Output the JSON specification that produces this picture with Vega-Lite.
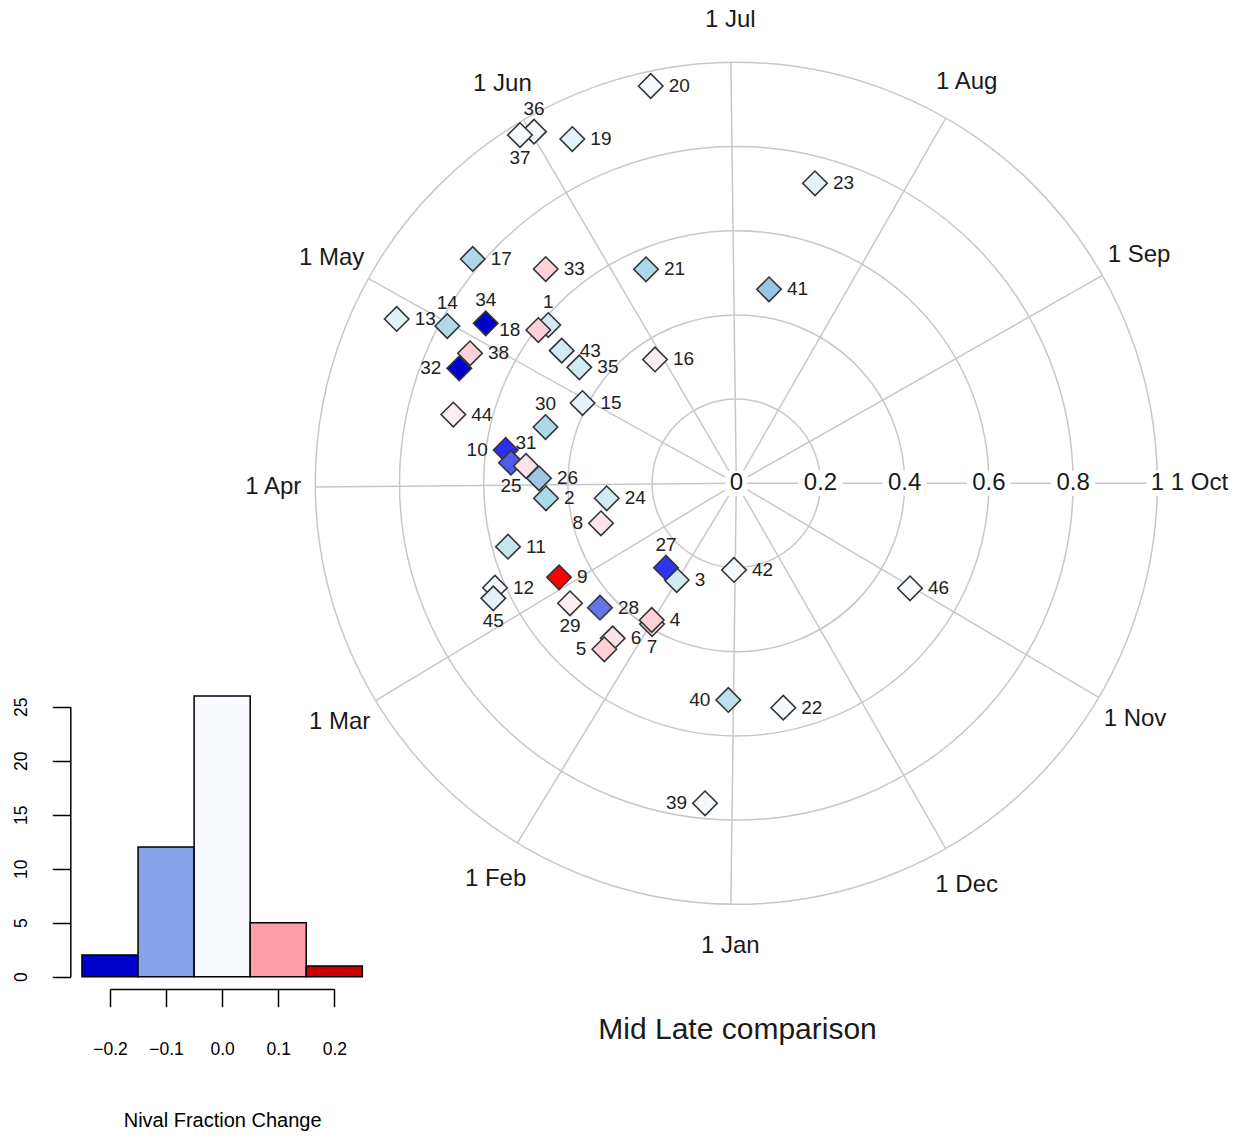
{
  "$schema": "https://vega.github.io/schema/vega-lite/v6.json",
  "width": 1246,
  "height": 1137,
  "autosize": {"type": "none"},
  "padding": 0,
  "background": "white",
  "config": {
    "view": {"stroke": null},
    "font": "Liberation Sans",
    "text": {"font": "Liberation Sans"},
    "axis": {"labelFont": "Liberation Sans", "titleFont": "Liberation Sans"}
  },
  "datasets": {
    "stations": [
      {"id": 1, "x": -0.4466, "y": 0.3760, "change": -0.035},
      {"id": 3, "x": -0.1416, "y": -0.2297, "change": -0.035},
      {"id": 6, "x": -0.2936, "y": -0.3682, "change": 0.045},
      {"id": 5, "x": -0.3135, "y": -0.3943, "change": 0.085},
      {"id": 7, "x": -0.2002, "y": -0.3342, "change": 0.045},
      {"id": 4, "x": -0.2009, "y": -0.3247, "change": 0.085},
      {"id": 8, "x": -0.3214, "y": -0.0950, "change": 0.045},
      {"id": 9, "x": -0.4211, "y": -0.2233, "change": 0.2},
      {"id": 10, "x": -0.5477, "y": 0.0791, "change": -0.148},
      {"id": 11, "x": -0.5423, "y": -0.1506, "change": -0.045},
      {"id": 12, "x": -0.5732, "y": -0.2480, "change": -0.003},
      {"id": 13, "x": -0.8067, "y": 0.3903, "change": -0.02},
      {"id": 14, "x": -0.6865, "y": 0.3736, "change": -0.066},
      {"id": 15, "x": -0.3653, "y": 0.1907, "change": -0.02},
      {"id": 16, "x": -0.1931, "y": 0.2941, "change": 0.025},
      {"id": 17, "x": -0.6261, "y": 0.5328, "change": -0.07},
      {"id": 18, "x": -0.4703, "y": 0.3641, "change": 0.085},
      {"id": 19, "x": -0.3895, "y": 0.8178, "change": -0.02},
      {"id": 20, "x": -0.2033, "y": 0.9437, "change": -0.003},
      {"id": 21, "x": -0.2145, "y": 0.5083, "change": -0.07},
      {"id": 22, "x": 0.1116, "y": -0.5330, "change": -0.003},
      {"id": 23, "x": 0.1869, "y": 0.7126, "change": -0.02},
      {"id": 24, "x": -0.3078, "y": -0.0356, "change": -0.035},
      {"id": 25, "x": -0.5352, "y": 0.0489, "change": -0.125},
      {"id": 27, "x": -0.1670, "y": -0.2005, "change": -0.145},
      {"id": 28, "x": -0.3238, "y": -0.2955, "change": -0.115},
      {"id": 29, "x": -0.3950, "y": -0.2850, "change": 0.025},
      {"id": 30, "x": -0.4532, "y": 0.1337, "change": -0.07},
      {"id": 31, "x": -0.4995, "y": 0.0411, "change": 0.045},
      {"id": 26, "x": -0.4686, "y": 0.0119, "change": -0.088},
      {"id": 2, "x": -0.4520, "y": -0.0356, "change": -0.07},
      {"id": 33, "x": -0.4527, "y": 0.5090, "change": 0.085},
      {"id": 34, "x": -0.5952, "y": 0.3800, "change": -0.2},
      {"id": 35, "x": -0.3729, "y": 0.2755, "change": -0.035},
      {"id": 36, "x": -0.4805, "y": 0.8352, "change": -0.003},
      {"id": 37, "x": -0.5138, "y": 0.8273, "change": -0.003},
      {"id": 38, "x": -0.6325, "y": 0.3088, "change": 0.085},
      {"id": 32, "x": -0.6580, "y": 0.2732, "change": -0.2},
      {"id": 39, "x": -0.0743, "y": -0.7601, "change": -0.003},
      {"id": 40, "x": -0.0190, "y": -0.5147, "change": -0.055},
      {"id": 41, "x": 0.0777, "y": 0.4608, "change": -0.09},
      {"id": 42, "x": -0.0055, "y": -0.2059, "change": -0.003},
      {"id": 43, "x": -0.4147, "y": 0.3150, "change": -0.035},
      {"id": 44, "x": -0.6722, "y": 0.1634, "change": 0.025},
      {"id": 45, "x": -0.5772, "y": -0.2732, "change": -0.02},
      {"id": 46, "x": 0.4126, "y": -0.2494, "change": -0.003}
    ],
    "months": [
      {"month": "1 Jan", "ux": -0.0129, "uy": -0.9999},
      {"month": "1 Feb", "ux": -0.5198, "uy": -0.8543},
      {"month": "1 Mar", "ux": -0.8565, "uy": -0.5160},
      {"month": "1 Apr", "ux": -1.0, "uy": -0.0086},
      {"month": "1 May", "ux": -0.8738, "uy": 0.4863},
      {"month": "1 Jun", "ux": -0.5051, "uy": 0.8631},
      {"month": "1 Jul", "ux": -0.0129, "uy": 0.9999},
      {"month": "1 Aug", "ux": 0.4975, "uy": 0.8675},
      {"month": "1 Sep", "ux": 0.8696, "uy": 0.4938},
      {"month": "1 Oct", "ux": 1.0, "uy": 0.0},
      {"month": "1 Nov", "ux": 0.8609, "uy": -0.5087},
      {"month": "1 Dec", "ux": 0.4975, "uy": -0.8675}
    ],
    "radii": [
      {"r": 0}, {"r": 0.2}, {"r": 0.4}, {"r": 0.6}, {"r": 0.8}, {"r": 1}
    ],
    "hist": [
      {"lo": -0.25, "hi": -0.15, "count": 2},
      {"lo": -0.15, "hi": -0.05, "count": 12},
      {"lo": -0.05, "hi": 0.05, "count": 26},
      {"lo": 0.05, "hi": 0.15, "count": 5},
      {"lo": 0.15, "hi": 0.25, "count": 1}
    ],
    "caption": [{"text": "Mid Late comparison"}]
  },
  "resolve": {"scale": {"x": "independent", "y": "independent", "color": "independent"}},
  "layer": [
    {
      "data": {"name": "radii"},
      "transform": [{"filter": "datum.r > 0"}],
      "mark": {"type": "point", "shape": "circle", "filled": false, "stroke": "#c8c8c8", "strokeWidth": 1.5, "opacity": 1},
      "encoding": {
        "x": {"datum": 0, "type": "quantitative", "scale": {"domain": [-1, 1], "range": [315.3, 1157.3], "nice": false, "zero": false}, "axis": null},
        "y": {"datum": 0, "type": "quantitative", "scale": {"domain": [-1, 1], "range": [904.3, 62.3], "nice": false, "zero": false}, "axis": null},
        "size": {"field": "r", "type": "quantitative", "scale": {"type": "pow", "exponent": 2, "domain": [0, 1], "range": [0, 708964]}, "legend": null}
      }
    },
    {
      "data": {"name": "months"},
      "mark": {"type": "rule", "stroke": "#c8c8c8", "strokeWidth": 1.5},
      "encoding": {
        "x": {"field": "ux", "type": "quantitative", "scale": {"domain": [-1, 1], "range": [315.3, 1157.3], "nice": false, "zero": false}, "axis": null},
        "y": {"field": "uy", "type": "quantitative", "scale": {"domain": [-1, 1], "range": [904.3, 62.3], "nice": false, "zero": false}, "axis": null},
        "x2": {"datum": 0},
        "y2": {"datum": 0}
      }
    },
    {
      "data": {"name": "radii"},
      "transform": [{"filter": "datum.r > 0 && datum.r < 1"}],
      "mark": {"type": "point", "shape": "M-1,-0.57L1,-0.57L1,0.57L-1,0.57Z", "filled": true, "fill": "white", "strokeWidth": 0, "opacity": 1, "size": 1936},
      "encoding": {
        "x": {"field": "r", "type": "quantitative", "scale": {"domain": [-1, 1], "range": [315.3, 1157.3], "nice": false, "zero": false}, "axis": null},
        "y": {"datum": 0, "type": "quantitative", "scale": {"domain": [-1, 1], "range": [904.3, 62.3], "nice": false, "zero": false}, "axis": null}
      }
    },
    {
      "data": {"name": "radii"},
      "transform": [{"filter": "datum.r == 0 || datum.r == 1"}],
      "mark": {"type": "point", "shape": "M-0.5,-0.57L0.5,-0.57L0.5,0.57L-0.5,0.57Z", "filled": true, "fill": "white", "strokeWidth": 0, "opacity": 1, "size": 1936},
      "encoding": {
        "x": {"field": "r", "type": "quantitative", "scale": {"domain": [-1, 1], "range": [315.3, 1157.3], "nice": false, "zero": false}, "axis": null},
        "y": {"datum": 0, "type": "quantitative", "scale": {"domain": [-1, 1], "range": [904.3, 62.3], "nice": false, "zero": false}, "axis": null}
      }
    },
    {
      "data": {"name": "radii"},
      "mark": {"type": "text", "fontSize": 24, "align": "center", "baseline": "middle", "color": "#1a1a1a"},
      "encoding": {
        "x": {"field": "r", "type": "quantitative", "scale": {"domain": [-1, 1], "range": [315.3, 1157.3], "nice": false, "zero": false}, "axis": null},
        "y": {"datum": 0, "type": "quantitative", "scale": {"domain": [-1, 1], "range": [904.3, 62.3], "nice": false, "zero": false}, "axis": null},
        "text": {"field": "r", "type": "quantitative", "format": "~g"}
      }
    },
    {
      "data": {"name": "months"},
      "mark": {"type": "text", "fontSize": 24, "align": "center", "baseline": "middle", "color": "#1a1a1a"},
      "encoding": {
        "x": {"field": "ux", "type": "quantitative", "scale": {"domain": [-0.90909, 0.90909], "range": [315.3, 1157.3], "nice": false, "zero": false}, "axis": null},
        "y": {"field": "uy", "type": "quantitative", "scale": {"domain": [-0.90909, 0.90909], "range": [904.3, 62.3], "nice": false, "zero": false}, "axis": null},
        "text": {"field": "month", "type": "nominal"}
      }
    },
    {
      "data": {"name": "stations"},
      "mark": {"type": "point", "shape": "diamond", "filled": true, "stroke": "#333333", "strokeWidth": 1.6, "size": 600, "opacity": 1},
      "encoding": {
        "x": {"field": "x", "type": "quantitative", "scale": {"domain": [-1, 1], "range": [315.3, 1157.3], "nice": false, "zero": false}, "axis": null},
        "y": {"field": "y", "type": "quantitative", "scale": {"domain": [-1, 1], "range": [904.3, 62.3], "nice": false, "zero": false}, "axis": null},
        "color": {"field": "change", "type": "quantitative", "scale": {"domain": [-0.2, -0.15, -0.12, -0.09, -0.07, 0, 0.1, 0.2], "range": ["#0000CD", "#2A2AF5", "#5566E8", "#9CC4E4", "#ADD8E6", "#F8FBFF", "#FFC8D0", "#FF0000"], "interpolate": "rgb"}, "legend": null}
      }
    },
    {
      "data": {"name": "stations"},
      "transform": [{"filter": {"field": "id", "oneOf": [20, 19, 23, 17, 33, 21, 41, 13, 43, 35, 16, 15, 44, 26, 2, 24, 11, 12, 9, 28, 3, 42, 4, 6, 22, 46, 38]}}],
      "mark": {"type": "text", "fontSize": 19, "align": "left", "baseline": "middle", "dx": 18, "color": "#222222"},
      "encoding": {
        "x": {"field": "x", "type": "quantitative", "scale": {"domain": [-1, 1], "range": [315.3, 1157.3], "nice": false, "zero": false}, "axis": null},
        "y": {"field": "y", "type": "quantitative", "scale": {"domain": [-1, 1], "range": [904.3, 62.3], "nice": false, "zero": false}, "axis": null},
        "text": {"field": "id", "type": "nominal"}
      }
    },
    {
      "data": {"name": "stations"},
      "transform": [{"filter": {"field": "id", "oneOf": [18, 32, 10, 8, 5, 40, 39]}}],
      "mark": {"type": "text", "fontSize": 19, "align": "right", "baseline": "middle", "dx": -18, "color": "#222222"},
      "encoding": {
        "x": {"field": "x", "type": "quantitative", "scale": {"domain": [-1, 1], "range": [315.3, 1157.3], "nice": false, "zero": false}, "axis": null},
        "y": {"field": "y", "type": "quantitative", "scale": {"domain": [-1, 1], "range": [904.3, 62.3], "nice": false, "zero": false}, "axis": null},
        "text": {"field": "id", "type": "nominal"}
      }
    },
    {
      "data": {"name": "stations"},
      "transform": [{"filter": {"field": "id", "oneOf": [36, 14, 34, 1, 30, 31, 27]}}],
      "mark": {"type": "text", "fontSize": 19, "align": "center", "baseline": "middle", "dy": -23, "color": "#222222"},
      "encoding": {
        "x": {"field": "x", "type": "quantitative", "scale": {"domain": [-1, 1], "range": [315.3, 1157.3], "nice": false, "zero": false}, "axis": null},
        "y": {"field": "y", "type": "quantitative", "scale": {"domain": [-1, 1], "range": [904.3, 62.3], "nice": false, "zero": false}, "axis": null},
        "text": {"field": "id", "type": "nominal"}
      }
    },
    {
      "data": {"name": "stations"},
      "transform": [{"filter": {"field": "id", "oneOf": [37, 25, 45, 29, 7]}}],
      "mark": {"type": "text", "fontSize": 19, "align": "center", "baseline": "middle", "dy": 23, "color": "#222222"},
      "encoding": {
        "x": {"field": "x", "type": "quantitative", "scale": {"domain": [-1, 1], "range": [315.3, 1157.3], "nice": false, "zero": false}, "axis": null},
        "y": {"field": "y", "type": "quantitative", "scale": {"domain": [-1, 1], "range": [904.3, 62.3], "nice": false, "zero": false}, "axis": null},
        "text": {"field": "id", "type": "nominal"}
      }
    },
    {
      "data": {"name": "caption"},
      "mark": {"type": "text", "fontSize": 30, "align": "center", "baseline": "middle", "color": "#1a1a1a"},
      "encoding": {
        "x": {"datum": 0.003, "type": "quantitative", "scale": {"domain": [-1, 1], "range": [315.3, 1157.3], "nice": false, "zero": false}, "axis": null},
        "y": {"datum": -1.2986, "type": "quantitative", "scale": {"domain": [-1, 1], "range": [904.3, 62.3], "nice": false, "zero": false}, "axis": null},
        "text": {"field": "text", "type": "nominal"}
      }
    },
    {
      "data": {"name": "hist"},
      "mark": {"type": "rect", "stroke": "black", "strokeWidth": 1.5},
      "encoding": {
        "x": {"field": "lo", "type": "quantitative", "scale": {"domain": [-0.2, 0.2], "range": [110, 334.3], "nice": false, "zero": false},
          "axis": {"orient": "bottom", "offset": -148, "values": [-0.2, -0.1, 0, 0.1, 0.2], "format": ".1f", "grid": false,
            "domainColor": "black", "domainWidth": 1.5, "tickColor": "black", "tickWidth": 1.5, "tickSize": 17.7,
            "labelFontSize": 17.5, "labelColor": "black", "labelPadding": 34, "labelFlush": false, "labelOverlap": false,
            "title": "Nival Fraction Change", "titleFontSize": 20, "titleFontWeight": "normal", "titleColor": "black", "titlePadding": 52}},
        "x2": {"field": "hi"},
        "y": {"field": "count", "type": "quantitative", "scale": {"domain": [0, 25], "range": [976.7, 706.7], "nice": false, "zero": false},
          "axis": {"orient": "left", "offset": -70.3, "values": [0, 5, 10, 15, 20, 25], "grid": false,
            "domainColor": "black", "domainWidth": 1.5, "tickColor": "black", "tickWidth": 1.5, "tickSize": 18,
            "labelAngle": 270, "labelAlign": "center", "labelBaseline": "bottom", "labelFontSize": 17.5, "labelColor": "black",
            "labelPadding": 22, "labelFlush": false, "labelOverlap": false, "title": null}},
        "y2": {"datum": 0},
        "color": {"field": "lo", "type": "ordinal", "scale": {"domain": [-0.25, -0.15, -0.05, 0.05, 0.15], "range": ["#0000CD", "#86A2E8", "#F8FAFF", "#FF9EA6", "#CC0000"]}, "legend": null}
      }
    }
  ]
}
